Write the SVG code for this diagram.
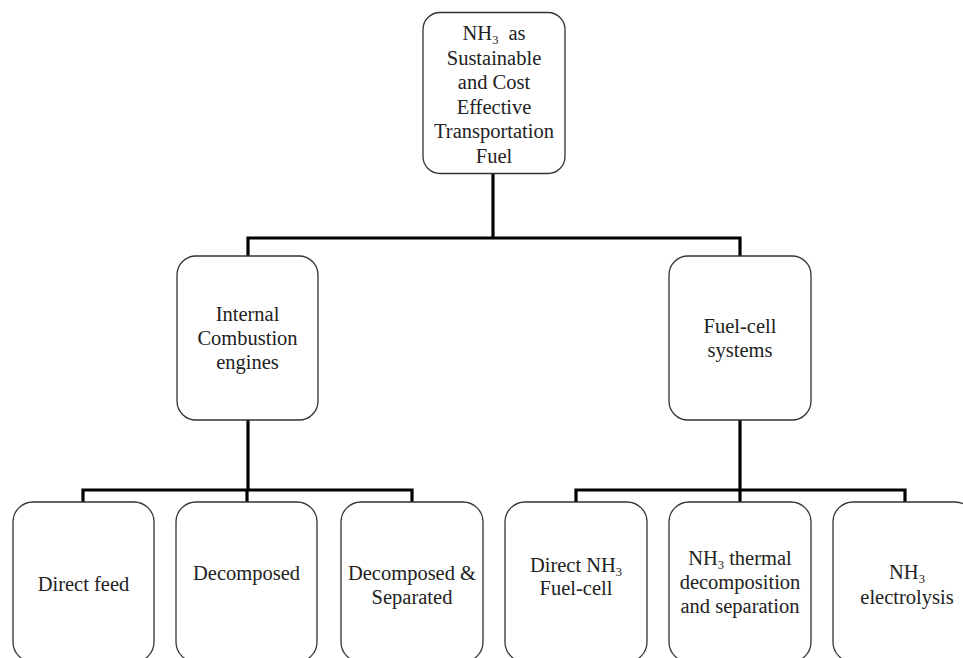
<svg xmlns="http://www.w3.org/2000/svg" width="963" height="658" viewBox="0 0 963 658">
<style>
.box{fill:#fff;stroke:#333;stroke-width:1.3}
.lbl{font-family:"Liberation Serif","Times New Roman",serif;font-size:20.5px;fill:#222;text-anchor:middle}
.sub{font-size:12.5px}
.con{fill:none;stroke:#000;stroke-width:3.2;stroke-linecap:butt;stroke-linejoin:miter}
</style>
<rect width="963" height="658" fill="#fff"/>
<g id="connectors">
<polyline class="con" points="493,174 493,238"/>
<polyline class="con" points="248,256 248,238 740,238 740,256"/>
<polyline class="con" points="248,420 248,490"/>
<polyline class="con" points="83,502 83,490 412,490 412,502"/>
<polyline class="con" points="247,490 247,502"/>
<polyline class="con" points="740,420 740,490"/>
<polyline class="con" points="576,502 576,490 905,490 905,502"/>
<polyline class="con" points="740,490 740,502"/>
</g>
<g id="root">
<rect class="box" x="423" y="12.5" width="142" height="161" rx="17"/>
<text class="lbl"><tspan x="494" y="40">NH<tspan class="sub" dy="4">3</tspan><tspan dy="-4" dx="10">as</tspan></tspan><tspan x="494" y="64.5">Sustainable</tspan><tspan x="494" y="89">and Cost</tspan><tspan x="494" y="113.5">Effective</tspan><tspan x="494" y="138">Transportation</tspan><tspan x="494" y="162.5">Fuel</tspan></text>
</g>
<g id="ice">
<rect class="box" x="177" y="256" width="141" height="164" rx="19"/>
<text class="lbl"><tspan x="247.5" y="321">Internal</tspan><tspan x="247.5" y="345">Combustion</tspan><tspan x="247.5" y="368.5">engines</tspan></text>
</g>
<g id="fuelcell">
<rect class="box" x="669" y="256" width="142" height="164" rx="19"/>
<text class="lbl"><tspan x="740" y="333">Fuel-cell</tspan><tspan x="740" y="357">systems</tspan></text>
</g>
<g id="direct-feed">
<rect class="box" x="13" y="502" width="141" height="160" rx="20"/>
<text class="lbl" x="83.5" y="591">Direct feed</text>
</g>
<g id="decomposed">
<rect class="box" x="176" y="502" width="141" height="160" rx="20"/>
<text class="lbl" x="246.5" y="580">Decomposed</text>
</g>
<g id="decomposed-separated">
<rect class="box" x="341" y="502" width="142" height="160" rx="20"/>
<text class="lbl"><tspan x="412" y="580">Decomposed &amp;</tspan><tspan x="412" y="603.5">Separated</tspan></text>
</g>
<g id="direct-nh3">
<rect class="box" x="505" y="502" width="142" height="160" rx="20"/>
<text class="lbl"><tspan x="576" y="571.5">Direct NH<tspan class="sub" dy="4">3</tspan></tspan><tspan x="576" y="595">Fuel-cell</tspan></text>
</g>
<g id="thermal">
<rect class="box" x="669" y="502" width="142" height="160" rx="20"/>
<text class="lbl"><tspan x="740" y="565">NH<tspan class="sub" dy="4">3</tspan><tspan dy="-4"> thermal</tspan></tspan><tspan x="740" y="589">decomposition</tspan><tspan x="740" y="613">and separation</tspan></text>
</g>
<g id="electrolysis">
<rect class="box" x="833" y="502" width="142" height="160" rx="20"/>
<text class="lbl"><tspan x="907" y="579">NH<tspan class="sub" dy="4">3</tspan></tspan><tspan x="907" y="604">electrolysis</tspan></text>
</g>
</svg>
